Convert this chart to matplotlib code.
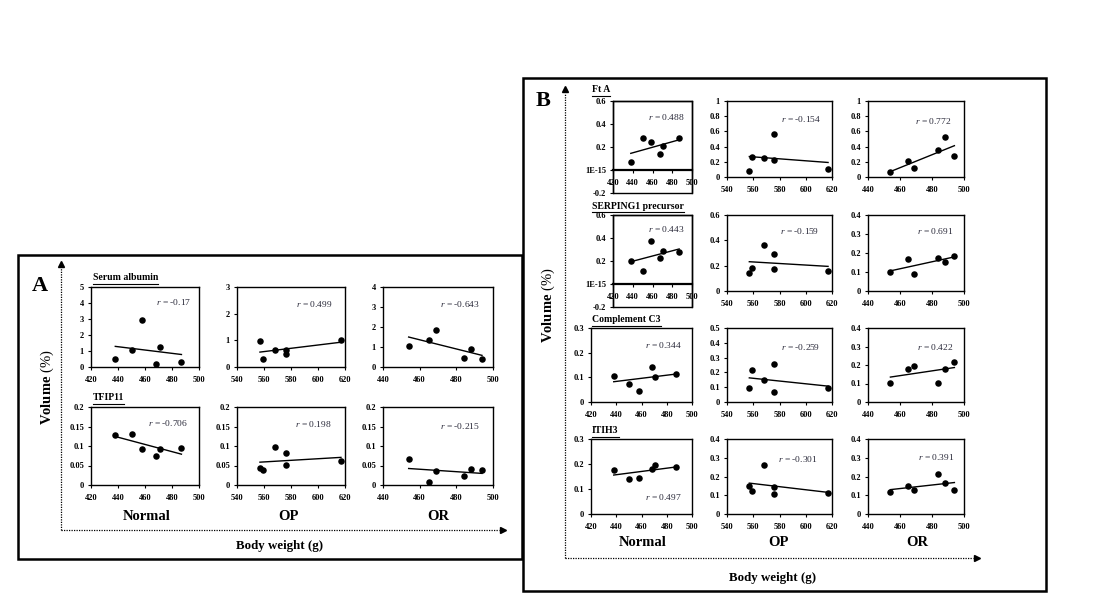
import numpy as np
import matplotlib

matplotlib.use("Agg")
import matplotlib.pyplot as plt
from matplotlib.lines import Line2D
from matplotlib.patches import Rectangle

W, H = 1095, 614
SERIF = "Liberation Serif"

# body weight (g) of the animals in each group
normal_bw = [438, 450, 458, 468, 471, 487]
op_bw = [557, 559, 568, 576, 576, 617]
or_bw = [454, 465, 469, 484, 488, 494]

# spot volume (%) per protein and group
albumin_normal = [0.48, 1.07, 2.92, 0.21, 1.22, 0.34]
albumin_op = [0.98, 0.29, 0.64, 0.64, 0.48, 1.01]
albumin_or = [1.06, 1.34, 1.85, 0.45, 0.89, 0.42]
tfip11_normal = [0.128, 0.130, 0.093, 0.075, 0.093, 0.094]
tfip11_op = [0.043, 0.038, 0.097, 0.083, 0.051, 0.062]
tfip11_or = [0.066, 0.008, 0.037, 0.024, 0.040, 0.038]
fta_normal = [0.07, 0.28, 0.245, 0.135, 0.21, 0.275]
fta_op = [0.08, 0.26, 0.25, 0.56, 0.22, 0.10]
fta_or = [0.06, 0.21, 0.115, 0.35, 0.53, 0.27]
serping_normal = [0.20, 0.113, 0.378, 0.225, 0.29, 0.282]
serping_op = [0.142, 0.18, 0.366, 0.295, 0.176, 0.16]
serping_or = [0.10, 0.17, 0.09, 0.175, 0.155, 0.185]
c3_normal = [0.107, 0.075, 0.045, 0.142, 0.103, 0.112]
c3_op = [0.092, 0.214, 0.152, 0.254, 0.067, 0.096]
c3_or = [0.104, 0.179, 0.196, 0.104, 0.179, 0.214]
itih3_normal = [0.178, 0.142, 0.145, 0.182, 0.195, 0.187]
itih3_op = [0.15, 0.124, 0.262, 0.142, 0.106, 0.113]
itih3_or = [0.119, 0.150, 0.127, 0.216, 0.165, 0.126]

proteins_a = ["Serum albumin", "TFIP11"]
proteins_b = ["Ft A", "SERPING1 precursor", "Complement C3", "ITIH3"]
groups = ["Normal", "OP", "OR"]

r_albumin = ["-0.17", "0.499", "-0.643"]
r_tfip11 = ["-0.706", "0.198", "-0.215"]
r_fta = ["0.488", "-0.154", "0.772"]
r_serping = ["0.443", "-0.159", "0.691"]
r_c3 = ["0.344", "-0.259", "0.422"]
r_itih3 = ["0.497", "-0.301", "0.391"]

plt.rcParams.update({
    "font.family": SERIF,
    "mathtext.fontset": "custom",
    "mathtext.rm": SERIF,
    "mathtext.it": SERIF + ":italic",
    "mathtext.bf": SERIF + ":bold",
})

fig = plt.figure(figsize=(W / 100, H / 100), dpi=100)


def rect_px(x0, y0, x1, y1):
    return [x0 / W, 1 - y1 / H, (x1 - x0) / W, (y1 - y0) / H]


def fx(x):
    return x / W


def fy(y):
    return 1 - y / H


def fmt(v):
    if abs(v) < 1e-9:
        return "0"
    return f"{v:g}"


def panel(rect, bw, vals, xlim, ylim, ystep, r_txt, r_pos, neg_axis=False):
    ax = fig.add_axes(rect)
    ax.scatter(bw, vals, s=22, color="black", linewidths=0, zorder=3,
               clip_on=False)
    k, b = np.polyfit(bw, vals, 1)
    xs = np.array([min(bw), max(bw)])
    ax.plot(xs, k * xs + b, color="black", lw=1.0)
    ax.set_xlim(*xlim)
    ax.set_ylim(*ylim)
    ax.set_xticks(np.arange(xlim[0], xlim[1] + 1, 20))
    yt = np.round(np.arange(ylim[0], ylim[1] + ystep / 2, ystep), 4)
    ax.set_yticks(yt)
    labels = [fmt(v) for v in yt]
    if neg_axis:
        labels = ["1E-15" if abs(v) < 1e-9 else fmt(v) for v in yt]
        ax.spines["bottom"].set_position(("data", 0))
        ax.spines["bottom"].set_linewidth(1.6)
        ax.add_patch(Rectangle((0, 0), 1, 1, transform=ax.transAxes,
                               fill=False, lw=1.0, ec="black", clip_on=False))
    ax.set_yticklabels(labels)
    for sp in ax.spines.values():
        if sp is not ax.spines["bottom"] or not neg_axis:
            sp.set_linewidth(1.0)
    ax.tick_params(direction="out", length=2.5, width=0.8, labelsize=6.0,
                   pad=2.5)
    ax.tick_params(axis="x", pad=4)
    for lab in ax.get_xticklabels() + ax.get_yticklabels():
        lab.set_fontweight("bold")
    ax.text(r_pos[0], r_pos[1], f"$r$ = {r_txt}", transform=ax.transAxes,
            ha="center", va="center", fontsize=6.8, color="#2a2a3a")
    return ax


titles = []


def title(x, y, s):
    t = fig.text(fx(x), fy(y), s, fontsize=7.0, fontweight="bold",
                 ha="left", va="baseline")
    titles.append(t)


# ---------------- panel A ----------------
A_COLS = [(91, 199), (237, 345), (383, 493)]
A_ROWS = [(287, 367), (407, 485)]
xlims = [(420, 500), (540, 620), (440, 500)]
bws = [normal_bw, op_bw, or_bw]

a_rows = [
    ([albumin_normal, albumin_op, albumin_or], [(0, 5, 1), (0, 3, 1), (0, 4, 1)],
     r_albumin, [(0.77, 0.81), (0.72, 0.79), (0.70, 0.79)]),
    ([tfip11_normal, tfip11_op, tfip11_or], [(0, 0.2, 0.05)] * 3,
     r_tfip11, [(0.71, 0.80), (0.71, 0.78), (0.70, 0.76)]),
]
for ri, (vals, ys, rt, rp) in enumerate(a_rows):
    y0, y1 = A_ROWS[ri]
    for ci in range(3):
        x0, x1 = A_COLS[ci]
        panel(rect_px(x0, y0, x1, y1), bws[ci], vals[ci], xlims[ci],
              ys[ci][:2], ys[ci][2], rt[ci], rp[ci])
title(93, 280, proteins_a[0])
title(93, 400, proteins_a[1])

# ---------------- panel B ----------------
B_COLS = [(591, 692), (727, 832), (868, 964)]
B_ROWS = [(101, 177), (215, 291), (328, 402), (439, 514)]
b_rows = [
    ([fta_normal, fta_op, fta_or], [(-0.2, 0.6, 0.2), (0, 1, 0.2), (0, 1, 0.2)],
     r_fta, [(0.68, 0.83), (0.71, 0.76), (0.68, 0.74)]),
    ([serping_normal, serping_op, serping_or],
     [(-0.2, 0.6, 0.2), (0, 0.6, 0.2), (0, 0.4, 0.1)],
     r_serping, [(0.67, 0.85), (0.69, 0.79), (0.70, 0.79)]),
    ([c3_normal, c3_op, c3_or], [(0, 0.3, 0.1), (0, 0.5, 0.1), (0, 0.4, 0.1)],
     r_c3, [(0.72, 0.77), (0.70, 0.75), (0.70, 0.75)]),
    ([itih3_normal, itih3_op, itih3_or],
     [(0, 0.3, 0.1), (0, 0.4, 0.1), (0, 0.4, 0.1)],
     r_itih3, [(0.72, 0.23), (0.68, 0.73), (0.71, 0.76)]),
]
neg_bottom = {0: 193, 1: 307}
for ri, (vals, ys, rt, rp) in enumerate(b_rows):
    y0, y1 = B_ROWS[ri]
    for ci in range(3):
        x0, x1 = B_COLS[ci]
        neg = ys[ci][0] < 0
        if neg:
            x0 = 613
            y1 = neg_bottom[ri]
        panel(rect_px(x0, y0, x1, y1 if neg else B_ROWS[ri][1]), bws[ci],
              vals[ci], xlims[ci], ys[ci][:2], ys[ci][2], rt[ci], rp[ci],
              neg_axis=neg)
title(592, 92, proteins_b[0])
title(592, 209, proteins_b[1])
title(592, 322, proteins_b[2])
title(592, 433, proteins_b[3])

# group labels, axis titles, letters
for gx, g in zip([147, 288, 438], groups):
    fig.text(fx(gx), fy(517), g, fontsize=10.5, fontweight="bold",
             ha="center", va="center")
for gx, g in zip([643, 778, 917], groups):
    fig.text(fx(gx), fy(543), g, fontsize=10.5, fontweight="bold",
             ha="center", va="center")

fig.text(fx(280), fy(546), "Body weight (g)", fontsize=9.3, fontweight="bold",
         ha="center", va="center")
fig.text(fx(773), fy(578), "Body weight (g)", fontsize=9.3, fontweight="bold",
         ha="center", va="center")
fig.text(fx(47), fy(387), r"$\mathbf{Volume}$ (%)", fontsize=10.5,
         rotation=90, ha="center", va="center")
fig.text(fx(548), fy(305), r"$\mathbf{Volume}$ (%)", fontsize=10.5,
         rotation=90, ha="center", va="center")
fig.text(fx(40), fy(286), "A", fontsize=16, fontweight="bold",
         ha="center", va="center")
fig.text(fx(543), fy(101), "B", fontsize=16, fontweight="bold",
         ha="center", va="center")


def dotted_arrows(x0, y_bot, y_top, x_right):
    kw = dict(transform=fig.transFigure, color="black", lw=0.9,
              ls=(0, (1, 1)))
    fig.add_artist(Line2D([fx(x0), fx(x0)], [fy(y_bot), fy(y_top + 4)], **kw))
    fig.add_artist(Line2D([fx(x0), fx(x_right - 4)], [fy(y_bot), fy(y_bot)],
                          **kw))
    fig.add_artist(Line2D([fx(x0)], [fy(y_top)], marker="^", ms=4,
                          color="black", transform=fig.transFigure))
    fig.add_artist(Line2D([fx(x_right)], [fy(y_bot)], marker=">", ms=4,
                          color="black", transform=fig.transFigure))


dotted_arrows(61, 530, 264, 503)
dotted_arrows(565, 558, 89, 977)

# outer boxes
fig.add_artist(Rectangle((fx(18), fy(559)), (522 - 18) / W, (559 - 255) / H,
                         transform=fig.transFigure, fill=False, lw=1.8,
                         ec="black"))
fig.add_artist(Rectangle((fx(523), fy(591)), (1046 - 523) / W, (591 - 78) / H,
                         transform=fig.transFigure, fill=False, lw=1.8,
                         ec="black"))

# underline the protein titles
fig.canvas.draw()
rend = fig.canvas.get_renderer()
for t in titles:
    bb = t.get_window_extent(rend)
    yb = bb.y0 - 1.5
    fig.add_artist(Line2D([bb.x0 / W, bb.x1 / W], [yb / H, yb / H],
                          transform=fig.transFigure, color="black", lw=0.8))

fig.savefig("out.png", dpi=100)
